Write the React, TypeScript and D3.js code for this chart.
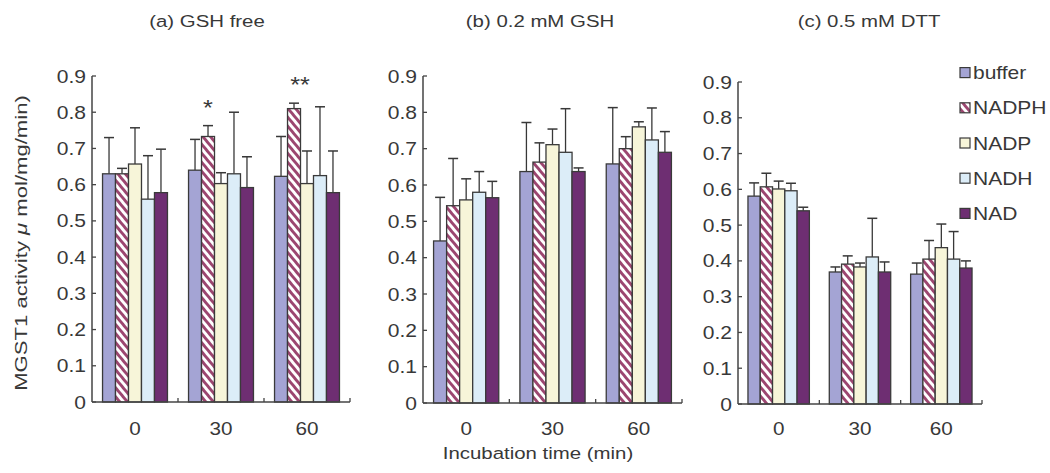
import React from 'react';
import * as d3 from 'd3';

// time points and treatments
const groups = ['0', '30', '60'];
const series = ['buffer', 'NADPH', 'NADP', 'NADH', 'NAD'];
const yTicks = [0, 0.1, 0.2, 0.3, 0.4, 0.5, 0.6, 0.7, 0.8, 0.9];

// rows = time point, columns = treatment
const gshFreeMean = [
  [0.63, 0.63, 0.657, 0.56, 0.578],
  [0.64, 0.733, 0.603, 0.63, 0.592],
  [0.623, 0.81, 0.603, 0.625, 0.578],
];
const gshFreeErr = [
  [0.1, 0.015, 0.1, 0.12, 0.12],
  [0.085, 0.03, 0.03, 0.17, 0.085],
  [0.11, 0.015, 0.09, 0.19, 0.115],
];
const gsh02Mean = [
  [0.446, 0.543, 0.559, 0.58, 0.565],
  [0.637, 0.663, 0.711, 0.69, 0.637],
  [0.658, 0.7, 0.76, 0.724, 0.69],
];
const gsh02Err = [
  [0.12, 0.13, 0.058, 0.057, 0.045],
  [0.135, 0.053, 0.043, 0.12, 0.01],
  [0.155, 0.033, 0.014, 0.088, 0.057],
];
const dttMean = [
  [0.581, 0.607, 0.601, 0.596, 0.54],
  [0.369, 0.391, 0.383, 0.411, 0.369],
  [0.363, 0.405, 0.437, 0.405, 0.38],
];
const dttErr = [
  [0.037, 0.038, 0.022, 0.021, 0.01],
  [0.014, 0.023, 0.011, 0.108, 0.028],
  [0.031, 0.052, 0.066, 0.077, 0.02],
];

// significance marks for panel (a): [group, series, label]
const sigMarks: [number, number, string][] = [
  [1, 1, '*'],
  [2, 1, '**'],
];

const fills = ['#a4a4d4', 'url(#hatch)', '#f7f5d9', '#dcedf8', '#6e2e72'];
const ink = '#383838';
const font = 'Liberation Sans, Arial, Helvetica, sans-serif';

const panels = [
  { title: '(a) GSH free', mean: gshFreeMean, err: gshFreeErr, x0: 92, x1: 350, y0: 402, y9: 76, tx: 207, marks: sigMarks },
  { title: '(b) 0.2 mM GSH', mean: gsh02Mean, err: gsh02Err, x0: 423, x1: 682, y0: 403, y9: 76, tx: 540, marks: [] },
  { title: '(c) 0.5 mM DTT', mean: dttMean, err: dttErr, x0: 738, x1: 982, y0: 404, y9: 82, tx: 869, marks: [] },
];

// stretched text, the source figure uses a wide sans
const SText = ({ x, y, size = 17, sx = 1.2, anchor = 'middle', rotate = 0, children }: any) => (
  <text
    transform={`translate(${x},${y}) rotate(${rotate}) scale(${sx},1)`}
    textAnchor={anchor}
    fontSize={size}
    fontFamily={font}
    fill={ink}
  >
    {children}
  </text>
);

const Panel = ({ p }: any) => {
  const y = d3.scaleLinear().domain([0, 0.9]).range([p.y0, p.y9]);
  const x = d3.scaleBand().domain(groups).range([p.x0, p.x1]).paddingInner(0.245).paddingOuter(0.1225);
  const xs = d3.scaleBand().domain(series).range([0, x.bandwidth()]);
  const step = x.step();

  return (
    <g>
      <SText x={p.tx} y={27}>{p.title}</SText>

      {groups.map((g, gi) => (
        <g key={g} transform={`translate(${x(g)},0)`}>
          {series.map((s, si) => {
            const v = p.mean[gi][si];
            const e = p.err[gi][si];
            const bx = xs(s)!;
            const cx = bx + xs.bandwidth() / 2;
            return (
              <g key={s}>
                <line x1={cx} x2={cx} y1={y(v)} y2={y(v + e)} stroke={ink} strokeWidth={1.3} />
                <line x1={cx - 5} x2={cx + 5} y1={y(v + e)} y2={y(v + e)} stroke={ink} strokeWidth={1.5} />
                <rect
                  x={bx}
                  y={y(v)}
                  width={xs.bandwidth()}
                  height={y(0) - y(v)}
                  fill={fills[si]}
                  stroke="#3a3a3a"
                  strokeWidth={1.3}
                />
              </g>
            );
          })}
        </g>
      ))}

      {p.marks.map(([gi, si, label]: [number, number, string]) => {
        const cx = x(groups[gi])! + xs(series[si])! + xs.bandwidth() / 2 + (label.length - 1) * 6;
        const top = y(p.mean[gi][si] + p.err[gi][si]);
        return (
          <SText key={label} x={cx} y={top - 11} size={22} sx={1.15}>
            {label}
          </SText>
        );
      })}

      {/* y axis */}
      <line x1={p.x0} x2={p.x0} y1={y(0)} y2={y(0.9)} stroke="#444" strokeWidth={1.5} />
      {yTicks.map((t) => (
        <g key={t}>
          <line x1={p.x0} x2={p.x0 + 4} y1={y(t)} y2={y(t)} stroke="#444" strokeWidth={1.3} />
          <SText x={p.x0 - 6} y={y(t) + 6.5} anchor="end" size={18} sx={1.17}>
            {d3.format('~g')(t)}
          </SText>
        </g>
      ))}

      {/* x axis */}
      <line x1={p.x0} x2={p.x1} y1={y(0)} y2={y(0)} stroke="#444" strokeWidth={1.5} />
      {[1, 2, 3].map((i) => (
        <line key={i} x1={p.x0 + step * i} x2={p.x0 + step * i} y1={y(0)} y2={y(0) - 4} stroke="#444" strokeWidth={1.3} />
      ))}
      {groups.map((g) => (
        <SText key={g} x={x(g)! + x.bandwidth() / 2} y={435} size={18} sx={1.15}>
          {g}
        </SText>
      ))}
    </g>
  );
};

export default function App() {
  const legendY = d3.scaleBand().domain(series).range([56, 232]);
  return (
    <svg width={1050} height={473} style={{ display: 'block', position: 'absolute', left: 0, top: 0, background: '#fff' }}>
      <defs>
        <pattern id="hatch" patternUnits="userSpaceOnUse" width={12} height={5.8} patternTransform="rotate(50)">
          <rect width={12} height={5.8} fill="#fff" />
          <rect width={12} height={2.9} fill="#9c4670" />
        </pattern>
      </defs>

      {panels.map((p) => (
        <Panel key={p.title} p={p} />
      ))}

      {/* axis titles */}
      <SText x={27} y={243} rotate={-90} sx={1.3}>
        MGST1 activity <tspan fontStyle="italic">μ</tspan> mol/mg/min)
      </SText>
      <SText x={538} y={459}>Incubation time (min)</SText>

      {/* legend */}
      {series.map((s, si) => {
        const ly = legendY(s)! + legendY.bandwidth() / 2;
        return (
          <g key={s}>
            <rect x={960} y={ly - 6} width={10} height={10} fill={fills[si]} stroke="#3a3a3a" strokeWidth={1.2} />
            <SText x={973} y={ly + 5.5} anchor="start" size={17.5} sx={1.2}>
              {s}
            </SText>
          </g>
        );
      })}
    </svg>
  );
}
